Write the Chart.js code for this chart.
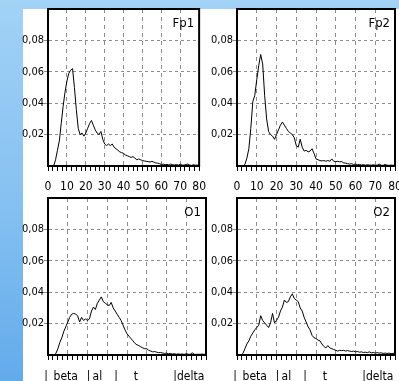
<!DOCTYPE html>
<html>
<head>
<meta charset="utf-8">
<script src="https://cdn.jsdelivr.net/npm/chart.js@4.4.1/dist/chart.umd.min.js"></script>
<style>
body{
    margin:0;
    width:399px;
    height:381px;
    overflow:hidden;
    position:relative;
    background:linear-gradient(180deg,#a2d2f6 0%,#84c0f1 55%,#62abeb 100%);
}
#sheet{position:absolute;left:23px;top:9px;right:0;bottom:0;background:#fff;}
.panel{position:absolute;}
</style>
</head>
<body>
<div id="sheet"></div>
<div class="panel" style="left:21px;top:0;width:194px;height:196px"><canvas id="fp1Chart"></canvas></div>
<div class="panel" style="left:210px;top:0;width:210px;height:196px"><canvas id="fp2Chart"></canvas></div>
<div class="panel" style="left:21px;top:189px;width:194px;height:196px"><canvas id="o1Chart"></canvas></div>
<div class="panel" style="left:210px;top:189px;width:210px;height:196px"><canvas id="o2Chart"></canvas></div>

<script>
// frequency bins, Hz
const hz = [
    0,1,2,3,4,5,6,7,8,9,10,11,12,13,14,15,16,17,18,19,20,
    21,22,23,24,25,26,27,28,29,30,31,32,33,34,35,36,37,38,39,40,
    41,42,43,44,45,46,47,48,49,50,51,52,53,54,55,56,57,58,59,60,
    61,62,63,64,65,66,67,68,69,70,71,72,73,74,75,76,77,78,79,80
];

const fp1 = [
    0,0,0,0,0.004,0.010,0.016,0.027,0.038,0.047,0.054,
    0.059,0.061,0.062,0.050,0.036,0.024,0.020,0.021,0.019,0.021,
    0.024,0.027,0.029,0.026,0.023,0.021,0.020,0.022,0.017,0.014,
    0.013,0.014,0.013,0.014,0.012,0.011,0.010,0.009,0.0085,0.008,
    0.007,0.0065,0.006,0.0055,0.006,0.005,0.004,0.0045,0.004,0.0035,
    0.0032,0.003,0.0028,0.0025,0.003,0.0025,0.002,0.0018,0.0015,0.001,
    0.0012,0.0008,0.001,0.0006,0.0012,0.0008,0.0006,0.001,0.0005,0.0012,
    0.0006,0.0005,0.001,0.0012,0.0006,0.0004,0.0008,0.0005,0.0006,0.0004
];

const fp2 = [
    0,0,0,0,0.001,0.005,0.011,0.024,0.041,0.045,0.055,
    0.064,0.071,0.065,0.045,0.030,0.022,0.020,0.019,0.017,0.020,
    0.023,0.026,0.028,0.026,0.024,0.022,0.021,0.020,0.018,0.013,
    0.012,0.017,0.012,0.0095,0.010,0.009,0.0095,0.011,0.008,0.0045,
    0.004,0.0035,0.0032,0.0035,0.003,0.0035,0.003,0.0045,0.003,0.0028,
    0.003,0.0026,0.0028,0.002,0.0018,0.0015,0.0012,0.0015,0.001,0.0012,
    0.0008,0.001,0.0006,0.0009,0.0005,0.0008,0.0006,0.0005,0.0008,0.0004,
    0.0006,0.0012,0.0005,0.0004,0.001,0.0005,0.0004,0.0006,0.0004,0.0005
];

const o1 = [
    0,0,0,0,0.001,0.004,0.008,0.011,0.015,0.018,0.021,
    0.024,0.026,0.0265,0.026,0.025,0.021,0.024,0.022,0.023,0.022,
    0.023,0.028,0.0305,0.029,0.033,0.035,0.037,0.034,0.033,0.032,
    0.0315,0.0335,0.030,0.028,0.026,0.024,0.022,0.019,0.016,0.0135,
    0.012,0.0105,0.009,0.0075,0.0065,0.006,0.0052,0.0045,0.004,0.004,
    0.003,0.0025,0.002,0.0022,0.0018,0.0015,0.0016,0.0013,0.001,0.0012,
    0.0008,0.001,0.0006,0.0008,0.0005,0.0007,0.0005,0.0006,0.0004,0.0008,
    0.0005,0.0004,0.0014,0.0005,0.0004,0.0005,0.0004,0.0006,0.0004,0.0005
];

const o2 = [
    0,0,0,0.001,0.004,0.007,0.009,0.012,0.014,0.016,0.0175,
    0.019,0.025,0.022,0.0205,0.019,0.0175,0.0205,0.0265,0.0205,0.022,
    0.024,0.028,0.0305,0.035,0.0335,0.034,0.037,0.039,0.036,0.035,
    0.034,0.030,0.028,0.024,0.021,0.018,0.016,0.0125,0.011,0.0105,
    0.0095,0.009,0.007,0.0055,0.0045,0.006,0.0045,0.004,0.0035,0.003,
    0.0025,0.003,0.0028,0.003,0.0025,0.0028,0.0025,0.0022,0.0025,0.002,
    0.0022,0.0018,0.002,0.0016,0.0018,0.0015,0.002,0.0014,0.0016,0.0012,
    0.0015,0.0012,0.0014,0.001,0.0012,0.001,0.0012,0.0009,0.001,0.0012
];

const yTicks = [0.02,0.04,0.06,0.08];

// band names under the occipital panels and where they sit on the Hz axis
const bandNames = ["|","beta","|","al","|","t","|delta"];
const bandPos = [-1,9,20.5,25,34.5,44.5,71.3];

const narrow = '"DejaVu Sans Condensed","Liberation Sans Narrow",sans-serif';

// closes the box round the plot and writes the lead name in its corner
const framePlugin = {
    id:"frame",
    afterDraw(chart, args, opts){
        const {ctx, chartArea:a} = chart;
        ctx.save();
        ctx.strokeStyle = "#000";
        ctx.lineWidth = 2;
        ctx.strokeRect(a.left, a.top, a.right - a.left, a.bottom - a.top);
        ctx.fillStyle = "#000";
        ctx.font = "13px " + narrow;
        ctx.textAlign = "right";
        ctx.textBaseline = "top";
        ctx.fillText(opts.name, a.right - 5, a.top + 8);
        ctx.restore();
    }
};

function makePanel(id, name, values, padRight, withBands){

    const scales = {
        x:{
            type:"linear",
            min:0,
            max:80,
            afterFit:(s)=>{ s.height = withBands ? 6 : 30; },
            ticks:{
                stepSize:2.5,
                autoSkip:false,
                maxRotation:0,
                padding:9,
                color:"#000",
                font:{family:narrow, size:12},
                callback:(v)=> (!withBands && v % 10 === 0) ? String(v) : ""
            },
            grid:{
                color:(c)=> (c.tick && c.tick.value % 10 === 0) ? "#8c8c8c" : "rgba(0,0,0,0)",
                tickColor:"#000",
                tickLength:5,
                tickBorderDash:[]
            },
            border:{color:"#000", width:2, dash:[4,4]}
        },
        y:{
            min:0,
            max:0.1,
            afterBuildTicks:(s)=>{ s.ticks = yTicks.map(v=>({value:v})); },
            afterFit:(s)=>{ s.width = 27; },
            ticks:{
                padding:0,
                color:"#000",
                font:{family:narrow, size:11},
                callback:(v)=> v.toFixed(2).replace(".", ",")
            },
            grid:{
                color:"#8c8c8c",
                tickColor:"#8c8c8c",
                tickLength:4,
                tickBorderDash:[3,3]
            },
            border:{color:"#000", width:2, dash:[3,3]}
        }
    };

    if(withBands){
        scales.band = {
            type:"linear",
            position:"bottom",
            min:0,
            max:80,
            afterBuildTicks:(s)=>{ s.ticks = bandPos.map(v=>({value:v})); },
            afterFit:(s)=>{ s.height = 24; },
            ticks:{
                autoSkip:false,
                maxRotation:0,
                padding:9,
                color:"#000",
                font:{family:narrow, size:12},
                callback:(v, i)=> bandNames[i]
            },
            grid:{display:false, drawTicks:false},
            border:{display:false}
        };
    }

    return new Chart(document.getElementById(id),{
        type:"line",
        data:{
            datasets:[
                {
                    label:name,
                    data:values.map((v, i)=>({x:hz[i], y:v})),
                    borderColor:"#000",
                    borderWidth:1,
                    pointRadius:0,
                    tension:0,
                    fill:false
                }
            ]
        },
        options:{
            responsive:true,
            maintainAspectRatio:false,
            animation:false,
            layout:{padding:{top:9, right:padRight, left:0, bottom:0}},
            scales:scales,
            plugins:{
                legend:{display:false},
                tooltip:{enabled:false},
                frame:{name:name}
            }
        },
        plugins:[framePlugin]
    });
}

makePanel("fp1Chart", "Fp1", fp1, 8, false);
makePanel("fp2Chart", "Fp2", fp2, 25, false);
makePanel("o1Chart", "O1", o1, 8, true);
makePanel("o2Chart", "O2", o2, 25, true);
</script>
</body>
</html>
